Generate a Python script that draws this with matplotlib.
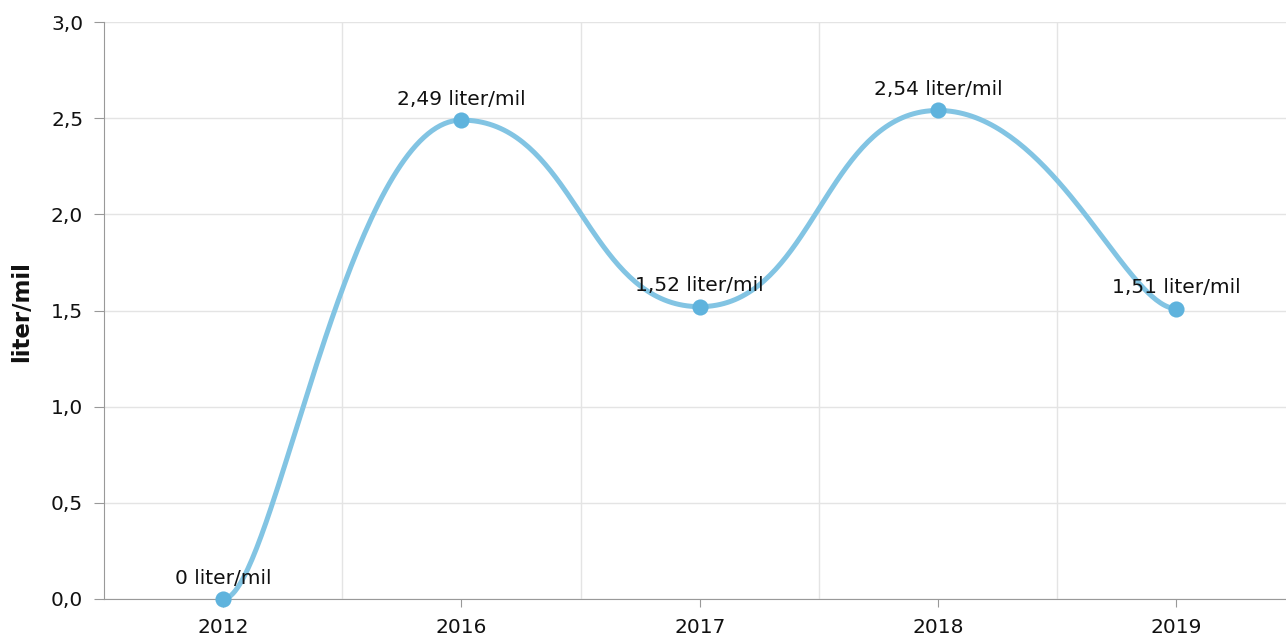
import numpy as np
import matplotlib
matplotlib.use("Agg")
import matplotlib.pyplot as plt

# data
years = ["2012", "2016", "2017", "2018", "2019"]
values = [0.0, 2.49, 1.52, 2.54, 1.51]
labels = ["0 liter/mil", "2,49 liter/mil", "1,52 liter/mil", "2,54 liter/mil", "1,51 liter/mil"]
yticks = [0.0, 0.5, 1.0, 1.5, 2.0, 2.5, 3.0]

line_color = "#82c4e3"
marker_color = "#5fb3dd"
grid_color = "#e4e4e4"
axis_color = "#999999"
text_color = "#111111"


def smooth_line(xs, ys, inner=0.48, outer=0.21, n=80):
    """Bezier path with flat tangents at each point (control arm = share of gap)."""
    ox, oy = [], []
    t = np.linspace(0, 1, n)
    last = len(xs) - 1
    for i in range(last):
        dx = xs[i + 1] - xs[i]
        a = (outer if i == 0 else inner) * dx
        b = (outer if i + 1 == last else inner) * dx
        p0 = np.array([xs[i], ys[i]])
        p1 = np.array([xs[i] + a, ys[i]])
        p2 = np.array([xs[i + 1] - b, ys[i + 1]])
        p3 = np.array([xs[i + 1], ys[i + 1]])
        pts = ((1 - t) ** 3)[:, None] * p0 + (3 * (1 - t) ** 2 * t)[:, None] * p1 \
            + (3 * (1 - t) * t ** 2)[:, None] * p2 + (t ** 3)[:, None] * p3
        ox.extend(pts[:, 0])
        oy.extend(pts[:, 1])
    return np.array(ox), np.array(oy)


plt.rcParams['font.family'] = ['DejaVu Sans']

fig = plt.figure(figsize=(12.86, 6.44), dpi=100)
ax = fig.add_axes([104 / 1286, 1 - 599 / 644, 1 - 104 / 1286, (599 - 22) / 644])

x = np.arange(len(years))
sx, sy = smooth_line(x, values)
ax.plot(sx, sy, color=line_color, lw=3.6, solid_capstyle="round", zorder=3, clip_on=False)
ax.scatter(x, values, s=135, color=marker_color, zorder=4, clip_on=False, linewidths=0)

for xi, v, lab in zip(x, values, labels):
    ax.annotate(lab, (xi, v), xytext=(0, 11), textcoords="offset points",
                ha="center", va="baseline", fontsize=14.5, color=text_color, zorder=5)

ax.set_xlim(-0.5, 4.46)
ax.set_ylim(0, 3.0)
ax.set_yticks(yticks)
ax.set_yticklabels([f"{t:.1f}".replace(".", ",") for t in yticks])
ax.set_xticks(x)
ax.set_xticklabels(years)
ax.set_xticks(x[:-1] + 0.5, minor=True)

ax.grid(axis="y", color=grid_color, lw=1)
ax.grid(axis="x", which="minor", color=grid_color, lw=1)
ax.set_axisbelow(True)

for s in ["top", "right"]:
    ax.spines[s].set_visible(False)
ax.spines["left"].set_color(axis_color)
ax.spines["bottom"].set_color(axis_color)

ax.tick_params(axis="y", which="major", length=7, color=axis_color, labelsize=14.5,
               labelcolor=text_color, pad=8)
ax.tick_params(axis="x", which="major", length=6, color=axis_color, labelsize=14.5,
               labelcolor=text_color, pad=8)
ax.tick_params(axis="x", which="minor", length=0)

fig.text(22 / 1286, 1 - 312 / 644, "liter/mil", rotation=90, ha="center", va="center",
         fontsize=16.5, fontweight="bold", color=text_color)

fig.savefig("out.png", dpi=100)
